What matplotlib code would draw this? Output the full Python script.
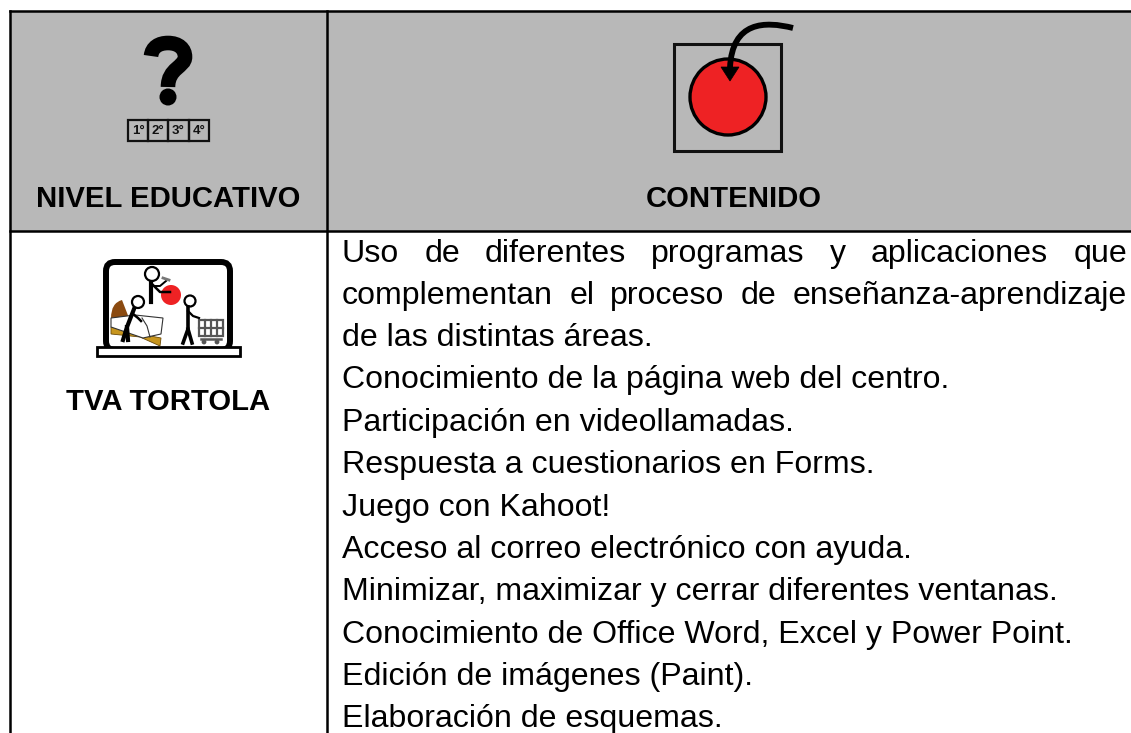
import matplotlib
matplotlib.use('Agg')
from matplotlib import pyplot as plt
from matplotlib.patches import Rectangle, Circle, FancyBboxPatch, PathPatch, Polygon
from matplotlib.path import Path

plt.rcParams['font.family'] = ['Liberation Sans', 'DejaVu Sans']

W, H = 1131, 733
header_left = 'NIVEL EDUCATIVO'
header_right = 'CONTENIDO'
level_name = 'TVA TORTOLA'
grades = ['1°', '2°', '3°', '4°']
# lines of the content cell, flag = justified to the cell width
content_lines = [
    ('Uso de diferentes programas y aplicaciones que', True),
    ('complementan el proceso de enseñanza-aprendizaje', True),
    ('de las distintas áreas.', False),
    ('Conocimiento de la página web del centro.', False),
    ('Participación en videollamadas.', False),
    ('Respuesta a cuestionarios en Forms.', False),
    ('Juego con Kahoot!', False),
    ('Acceso al correo electrónico con ayuda.', False),
    ('Minimizar, maximizar y cerrar diferentes ventanas.', False),
    ('Conocimiento de Office Word, Excel y Power Point.', False),
    ('Edición de imágenes (Paint).', False),
    ('Elaboración de esquemas.', False),
]
line_y = [262, 304, 346, 388, 431, 473, 516, 558, 600, 643, 685, 727]

GREY = '#b8b8b8'
RED = '#ee2224'
BODY = 23.1
BOLD = 21.1
CART = '#555555'

fig = plt.figure(figsize=(W / 100, H / 100), dpi=100)
ax = fig.add_axes([0, 0, 1, 1])
ax.set_xlim(0, W)
ax.set_ylim(H, 0)
ax.axis('off')

# table
ax.add_patch(Rectangle((10, 11), W - 10, 220, fc=GREY, ec='none'))
lw = 1.8
ax.plot([10, W], [11, 11], c='k', lw=lw, solid_capstyle='projecting')
ax.plot([10, W], [231, 231], c='k', lw=lw)
ax.plot([10, 10], [11, H], c='k', lw=lw)
ax.plot([327, 327], [11, H], c='k', lw=lw)

# headers
ax.text(168, 207, header_left, ha='center', va='baseline', fontsize=BOLD, fontweight='bold', color='k')
ax.text(734, 207, header_right, ha='center', va='baseline', fontsize=BOLD, fontweight='bold', color='k')
ax.text(168, 410, level_name, ha='center', va='baseline', fontsize=BOLD, fontweight='bold', color='k')

# content text
fig.canvas.draw()
rend = fig.canvas.get_renderer()
x0, x1 = 342, 1127
for (line, justify), y in zip(content_lines, line_y):
    if not justify:
        ax.text(x0, y, line, ha='left', va='baseline', fontsize=BODY, color='k')
        continue
    words = line.split(' ')
    widths = []
    for w in words:
        t = ax.text(0, 0, w, fontsize=BODY)
        widths.append(t.get_window_extent(rend).width)
        t.remove()
    gap = (x1 - x0 - sum(widths)) / (len(words) - 1)
    x = x0
    for w, wd in zip(words, widths):
        ax.text(x, y, w, ha='left', va='baseline', fontsize=BODY, color='k')
        x += wd + gap

# question mark icon, drawn as a stroke and a dot
hook = Path([(151, 56), (152, 47), (159, 43), (168, 43), (179, 43), (185, 49), (185, 57), (185, 67), (168, 68), (168, 87)],
            [Path.MOVETO] + [Path.CURVE4] * 9)
ax.add_patch(PathPatch(hook, fc='none', ec='k', lw=10.5, capstyle='butt'))
ax.add_patch(Circle((168, 97), 8.5, fc='k', ec='none'))
for i, g in enumerate(grades):
    bx = 128 + i * 20.2
    ax.add_patch(Rectangle((bx, 120), 20.2, 21, fc='none', ec='#111111', lw=1.6))
    ax.text(bx + 10.1, 131, g, ha='center', va='center', fontsize=9.5, fontweight='bold', color='#111111')

# content icon: square, red ball, bent arrow
ax.add_patch(Rectangle((674, 44), 107, 107, fc='none', ec='#111111', lw=2.2))
ax.add_patch(Circle((728, 97), 38, fc=RED, ec='k', lw=2.4))
arrow = Path([(793, 28), (765, 21), (732, 21), (730, 68)], [Path.MOVETO, Path.CURVE4, Path.CURVE4, Path.CURVE4])
ax.add_patch(PathPatch(arrow, fc='none', ec='k', lw=4.2, capstyle='butt'))
ax.add_patch(Polygon([(721, 67), (739, 67), (730, 81)], fc='k', ec='k', lw=0.5))

# laptop icon
ax.add_patch(FancyBboxPatch((106, 262), 124, 88, boxstyle='round,pad=0,rounding_size=9', fc='white', ec='k', lw=4.3))
ax.add_patch(Rectangle((97, 347), 143, 9, fc='white', ec='k', lw=2))

# bed
head = Path([(111, 318), (111, 303), (122, 300), (129, 318), (111, 318)],
            [Path.MOVETO, Path.CURVE3, Path.CURVE3, Path.LINETO, Path.CLOSEPOLY])
ax.add_patch(PathPatch(head, fc='#8b4a10', ec='none'))
ax.add_patch(Polygon([(111, 327), (140, 334), (161, 338), (160, 346), (140, 337), (111, 334)], fc='#c8961e', ec='#6b4a08', lw=0.6))
ax.add_patch(Polygon([(111, 318), (135, 315), (163, 318), (161, 334), (143, 338), (111, 327)], fc='white', ec='#333333', lw=0.8))
ax.plot([142, 147, 150], [318, 326, 337], c='#333333', lw=0.8)

# person at bed
ax.add_patch(Circle((138, 302), 6, fc='white', ec='k', lw=1.6))
ax.plot([134, 127, 123], [309, 327, 340], c='k', lw=3)
ax.plot([127, 128], [327, 340], c='k', lw=3)
ax.plot([133, 138, 141], [314, 318, 321], c='k', lw=1.8)

# person with hammer and ball
ax.add_patch(Circle((152, 274), 7, fc='white', ec='k', lw=1.6))
ax.plot([151, 151], [282, 302], c='k', lw=3)
ax.add_patch(Circle((171, 295), 10, fc=RED, ec='none'))
ax.plot([153, 160, 170], [285, 292, 292], c='k', lw=1.8)
ax.plot([153, 160, 166], [286, 286, 281], c='k', lw=1.4)
ax.plot([163, 169], [278, 280], c='#777777', lw=2)

# person with cart
ax.add_patch(Circle((190, 301), 5.5, fc='white', ec='k', lw=1.6))
ax.plot([188, 188, 183], [307, 329, 343], c='k', lw=2.6)
ax.plot([188, 192], [329, 343], c='k', lw=2.6)
ax.plot([188, 193, 199], [311, 316, 318], c='k', lw=1.6)
ax.add_patch(Rectangle((199, 320), 24, 16, fc='white', ec=CART, lw=1.6))
for gx in (205, 211, 217):
    ax.plot([gx, gx], [320, 336], c=CART, lw=1.6)
ax.plot([199, 223], [328, 328], c=CART, lw=1.6)
ax.plot([201, 221], [339, 339], c=CART, lw=1.8)
ax.add_patch(Circle((204, 342), 2.4, fc=CART, ec='none'))
ax.add_patch(Circle((217, 342), 2.4, fc=CART, ec='none'))

fig.savefig('out.png', dpi=100)
